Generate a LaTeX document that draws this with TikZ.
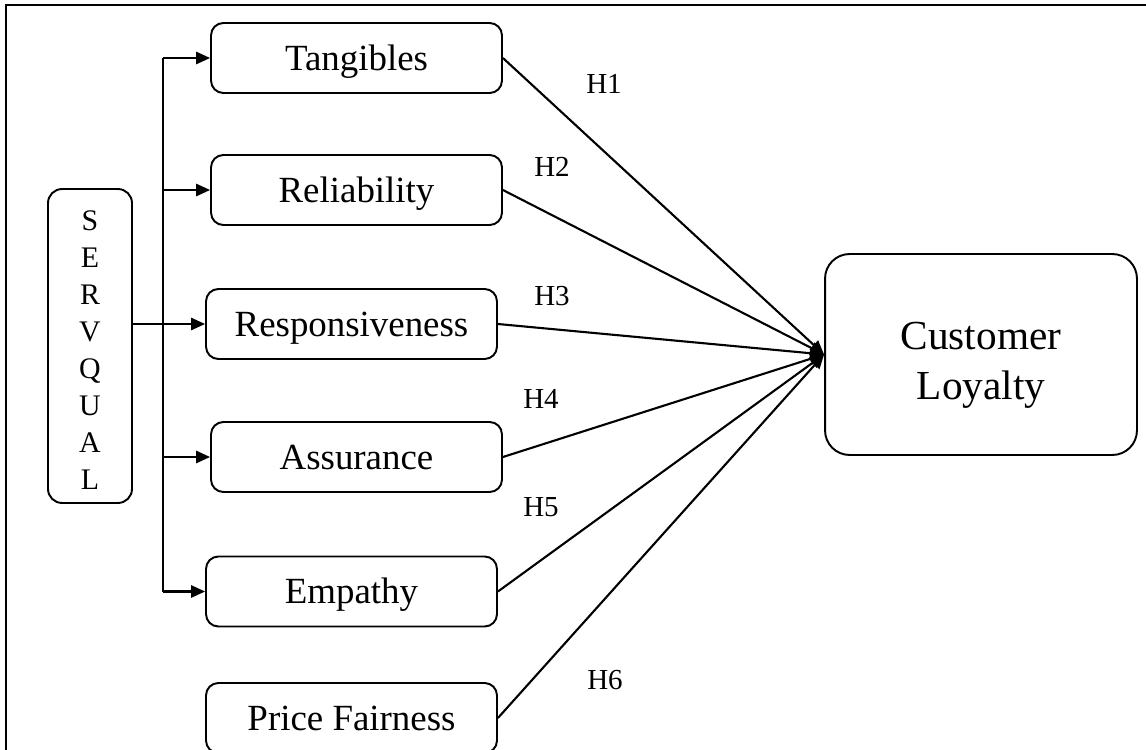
\documentclass[tikz,border=0pt]{standalone}
\usepackage{fontspec}
\setmainfont{Liberation Serif}
\usetikzlibrary{arrows.meta}

\begin{document}
\begin{tikzpicture}
        [x=0.02cm, y=-0.02cm,
        dim/.style={draw, rounded corners=7pt, line width=1.1pt, minimum width=5.82cm, minimum height=1.4cm, text height=14pt, text depth=0pt, font=\fontsize{21}{25}\selectfont},
        arr/.style={line width=1.2pt, -{Triangle[length=8pt, width=7pt]}},
        hyp/.style={font=\fontsize{16.5}{20}\selectfont}]

        \useasboundingbox (0,0) rectangle (1146,750);
        \draw[line width=1.5pt] (6,760) -- (6,5) -- (1150,5);

        \node[draw, rounded corners=8pt, line width=1.1pt, minimum width=1.68cm, minimum height=6.28cm, align=center, text height=163pt, text depth=0pt, font=\fontsize{17}{21}\selectfont] (servqual) at (90, 346) {S\\E\\R\\V\\Q\\U\\A\\L};

        \node[dim] (tang) at (356.5, 58) {Tangibles};
        \node[dim] (rel) at (356.5, 190) {Reliability};
        \node[dim] (resp) at (351.5, 324) {Responsiveness};
        \node[dim] (assur) at (356.5, 457) {Assurance};
        \node[dim] (emp) at (351.5, 591.5) {Empathy};
        \node[dim] (price) at (351.5, 718) {Price Fairness};

        \node[draw, rounded corners=14pt, line width=1.1pt, minimum width=6.24cm, minimum height=4.02cm, align=center, text height=51.6pt, text depth=0pt, font=\fontsize{23.5}{28.4}\selectfont] (loyal) at (981, 354.5) {Customer\\Loyalty};

        \coordinate (bustop) at (163, 58);
        \coordinate (busbot) at (163, 591.5);

        \draw[line width=0.9pt] (bustop) -- (busbot);
        \draw[arr] (bustop) -- (tang);
        \draw[arr] (bustop |- rel) -- (rel);
        \draw[arr] (servqual.east |- resp) -- (resp);
        \draw[arr] (bustop |- assur) -- (assur);
        \draw[arr] (busbot) -- (emp);

        \draw[arr] (tang.east) -- (loyal.west);
        \draw[arr] (rel.east) -- (loyal.west);
        \draw[arr] (resp.east) -- (loyal.west);
        \draw[arr] (assur.east) -- (loyal.west);
        \draw[arr] (emp.east) -- (loyal.west);
        \draw[arr] (price.east) -- (loyal.west);

        \node[hyp] (h1) at (604, 84) {H1};
        \node[hyp] (h2) at (552, 167) {H2};
        \node[hyp] (h3) at (552, 296) {H3};
        \node[hyp] (h4) at (541, 399) {H4};
        \node[hyp] (h5) at (541, 507) {H5};
        \node[hyp] (h6) at (605, 680) {H6};
      \end{tikzpicture}
\end{document}
